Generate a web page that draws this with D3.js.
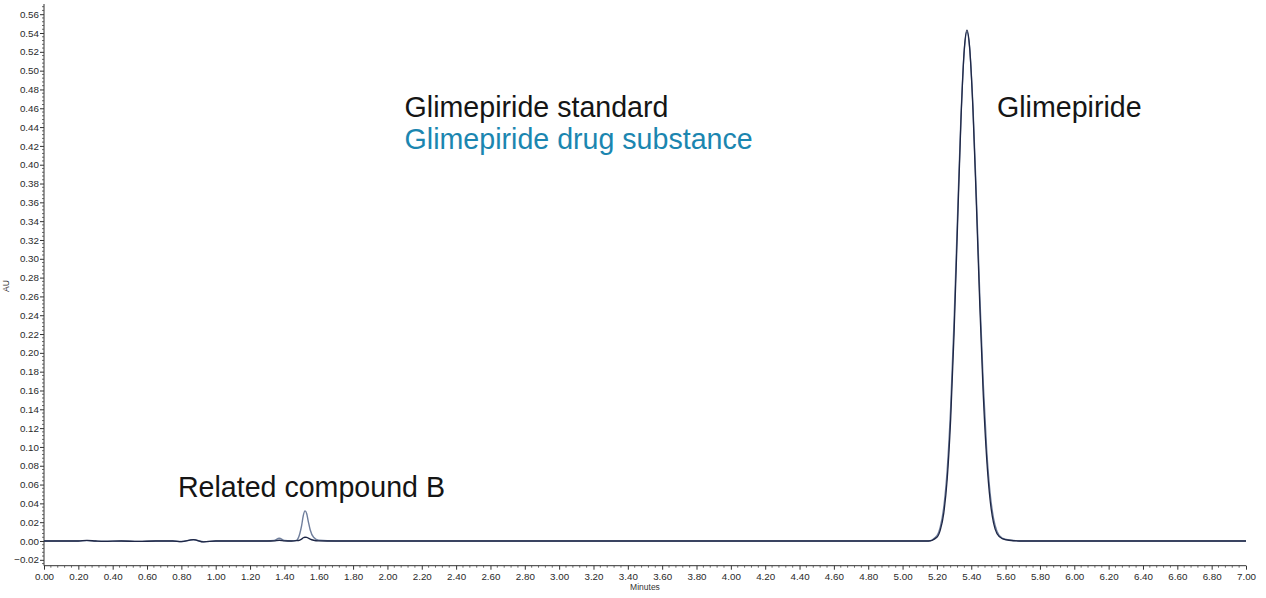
<!DOCTYPE html>
<html>
<head>
<meta charset="utf-8">
<script src="https://cdn.jsdelivr.net/npm/d3@7"></script>
<style>
  html, body { margin: 0; padding: 0; background: #fff; }
  svg { display: block; }
  text { font-family: "Liberation Sans", Arial, sans-serif; }
</style>
</head>
<body>
<svg id="chart" width="1266" height="598"></svg>
<script>
// ---- Data ----
const times = [0.00, 0.10, 0.20, 0.25, 0.30, 0.35, 0.45, 0.55, 0.65, 0.75, 0.80, 0.87, 0.93, 1.00,
  1.10, 1.20, 1.30, 1.34, 1.37, 1.40, 1.44, 1.47, 1.49, 1.50, 1.51, 1.52, 1.53, 1.54, 1.55, 1.57,
  1.60, 1.70, 1.80, 2.00, 2.50, 3.00, 3.50, 4.00, 4.50, 5.00, 5.15, 5.20, 5.22, 5.24, 5.26, 5.28,
  5.30, 5.32, 5.34, 5.36, 5.375, 5.39, 5.41, 5.43, 5.45, 5.47, 5.49, 5.51, 5.53, 5.55, 5.58, 5.62,
  5.70, 6.00, 6.50, 7.00];

const standardAU = [0.000, 0.000, 0.000, 0.0006, 0.000, -0.0004, 0.000, -0.0005, 0.000, 0.000, -0.0006, 0.0015, -0.0010, 0.000,
  0.000, 0.000, 0.000, 0.0002, 0.0008, 0.0002, 0.000, 0.0003, 0.0010, 0.0020, 0.0035, 0.0040, 0.0038, 0.0030, 0.0020, 0.0008,
  0.0002, 0.000, 0.000, 0.000, 0.000, 0.000, 0.000, 0.000, 0.000, 0.000, 0.000, 0.0041, 0.0118, 0.0297, 0.0659, 0.129,
  0.221, 0.335, 0.447, 0.524, 0.543, 0.526, 0.458, 0.357, 0.249, 0.155, 0.087, 0.043, 0.019, 0.0077, 0.0026, 0.0008,
  0.000, 0.000, 0.000, 0.000];

const substanceAU = [0.000, 0.000, 0.000, 0.0004, 0.000, -0.0003, 0.000, -0.0004, 0.000, 0.000, -0.0005, 0.0013, -0.0008, 0.000,
  0.000, 0.000, 0.000, 0.0005, 0.0030, 0.0005, 0.000, 0.0007, 0.0080, 0.0160, 0.0270, 0.0320, 0.0290, 0.0200, 0.0120, 0.0040,
  0.0008, 0.000, 0.000, 0.000, 0.000, 0.000, 0.000, 0.000, 0.000, 0.000, 0.000, 0.0057, 0.0152, 0.036, 0.0757, 0.1415,
  0.2345, 0.345, 0.451, 0.523, 0.541, 0.525, 0.4615, 0.365, 0.260, 0.167, 0.0968, 0.0505, 0.0238, 0.0101, 0.0030, 0.0010,
  0.000, 0.000, 0.000, 0.000];

const xTickValues = [0.00,0.20,0.40,0.60,0.80,1.00,1.20,1.40,1.60,1.80,2.00,2.20,2.40,2.60,2.80,3.00,3.20,3.40,
  3.60,3.80,4.00,4.20,4.40,4.60,4.80,5.00,5.20,5.40,5.60,5.80,6.00,6.20,6.40,6.60,6.80,7.00];
const yTickValues = [-0.02,0.00,0.02,0.04,0.06,0.08,0.10,0.12,0.14,0.16,0.18,0.20,0.22,0.24,0.26,0.28,0.30,
  0.32,0.34,0.36,0.38,0.40,0.42,0.44,0.46,0.48,0.50,0.52,0.54,0.56];

const labels = [
  { text: "Glimepiride standard", t: 2.10, v: 0.4506, color: "#151515" },
  { text: "Glimepiride drug substance", t: 2.10, v: 0.4166, color: "#1b86b0" },
  { text: "Glimepiride", t: 5.55, v: 0.4506, color: "#151515" },
  { text: "Related compound B", t: 0.78, v: 0.0468, color: "#151515" }
];

// ---- Layout ----
const svg = d3.select("#chart");
const x = d3.scaleLinear().domain([0, 7]).range([44, 1246]);
const y = d3.scaleLinear().domain([0, 0.56]).range([541, 14.2]);
const yBottom = 565.7, yTop = 4;

const g = svg.append("g");

// Y axis
const yAxis = d3.axisLeft(y).tickValues(yTickValues).tickSize(4).tickSizeOuter(0)
  .tickFormat(d3.format(".2f"));
const yg = g.append("g").attr("transform", "translate(44,0)").call(yAxis);
yg.select(".domain").remove();
g.append("line").attr("x1", 44).attr("x2", 44).attr("y1", yTop).attr("y2", yBottom)
  .attr("stroke", "#333").attr("stroke-width", 1);
// minor y ticks
const yMinor = d3.range(-0.024, 0.5701, 0.004).filter(v => Math.abs(Math.round(v / 0.02) * 0.02 - v) > 1e-6);
g.append("g").selectAll("line").data(yMinor).join("line")
  .attr("x1", 42).attr("x2", 44).attr("y1", d => y(d)).attr("y2", d => y(d))
  .attr("stroke", "#444").attr("stroke-width", 0.8);

// X axis
const xAxis = d3.axisBottom(x).tickValues(xTickValues).tickSize(4).tickSizeOuter(0)
  .tickFormat(d3.format(".2f"));
const xg = g.append("g").attr("transform", `translate(0,${yBottom})`).call(xAxis);
xg.select(".domain").remove();
g.append("line").attr("x1", 44).attr("x2", 1246).attr("y1", yBottom).attr("y2", yBottom)
  .attr("stroke", "#333").attr("stroke-width", 1);
const xMinor = d3.range(0.04, 7.0, 0.04).filter(v => Math.abs(Math.round(v / 0.2) * 0.2 - v) > 1e-6);
g.append("g").selectAll("line").data(xMinor).join("line")
  .attr("x1", d => x(d)).attr("x2", d => x(d)).attr("y1", yBottom).attr("y2", yBottom + 2)
  .attr("stroke", "#444").attr("stroke-width", 0.8);

[yg, xg].forEach(ax => {
  ax.selectAll(".tick line").attr("stroke", "#333");
  ax.selectAll(".tick text").attr("fill", "#2a2a2a").style("font-size", "9.8px")
    .style("font-family", "'Liberation Sans', Arial, sans-serif");
});
yg.selectAll(".tick text").attr("x", -5);
xg.selectAll(".tick text").attr("y", 7);

// Axis titles
g.append("text").attr("transform", "translate(9,286) rotate(-90)")
  .attr("text-anchor", "middle").style("font-size", "8.5px").attr("fill", "#333").text("AU");
g.append("text").attr("x", 645).attr("y", 590)
  .attr("text-anchor", "middle").style("font-size", "8.5px").attr("fill", "#333").text("Minutes");

// Traces
const line = d3.line().x((d, i) => x(times[i])).y(d => y(d)).curve(d3.curveMonotoneX);
g.append("path").datum(substanceAU).attr("d", line)
  .attr("fill", "none").attr("stroke", "#6f7e9c").attr("stroke-width", 1.4);
g.append("path").datum(standardAU).attr("d", line)
  .attr("fill", "none").attr("stroke", "#1e2746").attr("stroke-width", 1.3);

// Annotations
g.append("g").selectAll("text").data(labels).join("text")
  .attr("x", d => x(d.t)).attr("y", d => y(d.v))
  .attr("fill", d => d.color).style("font-size", "28.6px")
  .text(d => d.text);
</script>
</body>
</html>
